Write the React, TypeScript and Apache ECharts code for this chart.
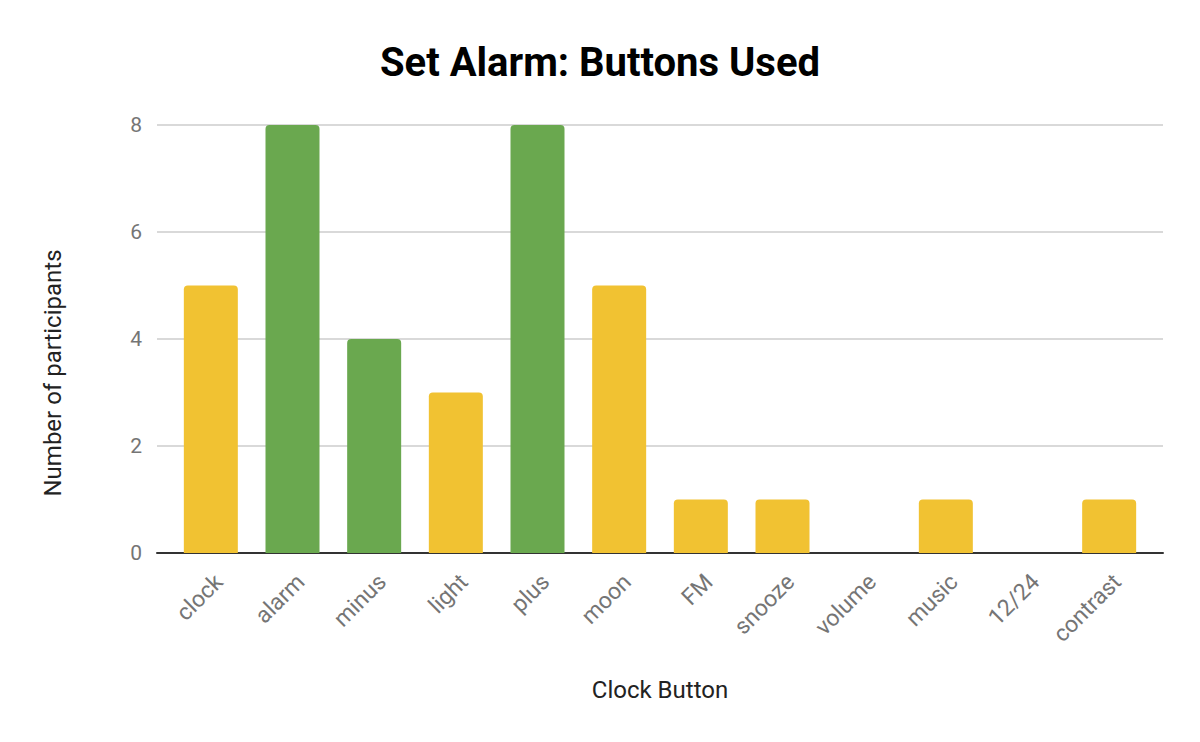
import * as echarts from 'echarts';
import { useEffect, useRef } from 'react';

// 类别与数值
const categories = ['clock', 'alarm', 'minus', 'light', 'plus', 'moon', 'FM', 'snooze', 'volume', 'music', '12/24', 'contrast'];
const participants = [5, 8, 4, 3, 8, 5, 1, 1, 0, 1, 0, 1];
const greenCategories = ['alarm', 'minus', 'plus'];
const yTicks = [0, 2, 4, 6, 8];

const YELLOW = '#F1C232';
const GREEN = '#6AA84F';
const FONT = 'Roboto, sans-serif';

const getChartOptions = (): echarts.EChartsOption => ({
  animation: false,
  title: {
    text: 'Set Alarm: Buttons Used',
    left: 'center',
    top: 37,
    textStyle: { fontFamily: FONT, fontSize: 40, fontWeight: 'bold', color: '#000' },
  },
  graphic: [
    {
      type: 'text',
      x: 53,
      y: 373,
      rotation: Math.PI / 2,
      style: {
        text: 'Number of participants',
        fontFamily: FONT,
        fontSize: 24,
        fill: '#222',
        align: 'center',
        verticalAlign: 'middle',
      },
    },
  ],
  grid: [
    { left: 157, right: 37, top: 125, bottom: 189 },
    { left: 170, right: 50, top: 125, bottom: 189 },
  ],
  xAxis: [
    {
      type: 'value',
      gridIndex: 0,
      min: 0,
      max: 1,
      axisLabel: { show: false },
      axisTick: { show: false },
      splitLine: { show: false },
      axisLine: { show: true, lineStyle: { color: '#333', width: 2 } },
      name: 'Clock Button',
      nameLocation: 'middle',
      nameGap: 125,
      nameTextStyle: { fontFamily: FONT, fontSize: 24, color: '#222' },
    },
    {
      type: 'category',
      gridIndex: 1,
      data: categories,
      axisLine: { show: false },
      axisTick: { show: false },
      axisLabel: {
        rotate: 45,
        margin: 17,
        interval: 0,
        verticalAlign: 'top',
        fontFamily: FONT,
        fontSize: 23,
        color: '#757575',
      },
    },
  ],
  yAxis: [
    {
      type: 'value',
      gridIndex: 0,
      min: yTicks[0],
      max: yTicks[yTicks.length - 1],
      interval: 2,
      axisLine: { show: false },
      axisTick: { show: false },
      axisLabel: { fontFamily: FONT, fontSize: 21, color: '#757575', margin: 15 },
      splitLine: { lineStyle: { color: '#CCCCCC', width: 1.5 } },
    },
    {
      type: 'value',
      gridIndex: 1,
      min: yTicks[0],
      max: yTicks[yTicks.length - 1],
      show: false,
    },
  ],
  series: [
    {
      type: 'bar',
      xAxisIndex: 1,
      yAxisIndex: 1,
      barWidth: 54,
      z: 3,
      data: participants.map((v, i) => ({
        value: v,
        itemStyle: {
          color: greenCategories.includes(categories[i]) ? GREEN : YELLOW,
          borderRadius: [4, 4, 0, 0],
        },
      })),
    },
  ],
});

export default function App() {
  const chartRef = useRef<HTMLDivElement>(null);

  useEffect(() => {
    if (!chartRef.current) return;
    const chart = echarts.init(chartRef.current, undefined, { renderer: 'svg' });
    chart.setOption(getChartOptions());
    return () => {
      chart.dispose();
    };
  }, []);

  return (
    <div
      ref={chartRef}
      style={{ position: 'fixed', left: 0, top: 0, width: 1200, height: 742, background: '#fff' }}
    />
  );
}
